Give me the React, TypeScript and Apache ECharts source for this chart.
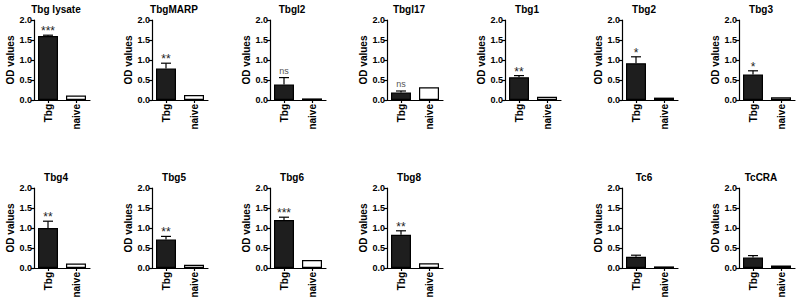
import React, { useEffect, useRef } from "react";
import * as echarts from "echarts";

// ---- data ----
const panelTitles = ["Tbg lysate", "TbgMARP", "Tbgl2", "Tbgl17", "Tbg1", "Tbg2", "Tbg3", "Tbg4", "Tbg5", "Tbg6", "Tbg8", "Tc6", "TcCRA"];
const categories = ["Tbg", "naive"];
const tbgValues = [1.6, 0.79, 0.39, 0.19, 0.57, 0.92, 0.64, 1.0, 0.71, 1.2, 0.83, 0.28, 0.26];
const tbgErrorTop = [1.62, 0.92, 0.56, 0.225, 0.61, 1.08, 0.73, 1.17, 0.79, 1.27, 0.93, 0.32, 0.31];
const naiveValues = [0.11, 0.125, 0.04, 0.32, 0.08, 0.06, 0.07, 0.11, 0.08, 0.2, 0.12, 0.04, 0.06];
const significance = ["***", "**", "ns", "ns", "**", "*", "*", "**", "**", "***", "**", "", ""];
const yAxisName = "OD values";
const yMin = 0;
const yMax = 2;
const yInterval = 0.5;

// ---- layout (positions only) ----
const colX = [34, 152, 270, 387, 505, 622, 739];
const rowTop = [20, 188];
const panelSlots: [number, number][] = [
  [0, 0], [0, 1], [0, 2], [0, 3], [0, 4], [0, 5], [0, 6],
  [1, 0], [1, 1], [1, 2], [1, 3], [1, 5], [1, 6],
];
const GRID_W = 56;
const GRID_H = 80;
const FONT = "'Liberation Sans', Arial, sans-serif";

function buildOption() {
  const grid: any[] = [];
  const xAxis: any[] = [];
  const yAxis: any[] = [];
  const series: any[] = [];
  const title: any[] = [];

  panelTitles.forEach((name, i) => {
    const [r, c] = panelSlots[i];
    const left = colX[c];
    const top = rowTop[r];
    grid.push({ left, top, width: GRID_W, height: GRID_H, outerBoundsMode: "none", containLabel: false });
    title.push({
      text: name,
      left: left + 22,
      top: top - 16,
      textAlign: "center",
      padding: 0,
      textStyle: { fontSize: 10, fontWeight: "bold", color: "#000", fontFamily: FONT },
    });
    xAxis.push({
      gridIndex: i,
      type: "category",
      data: categories,
      axisLine: { show: true, lineStyle: { color: "#000", width: 1.2 } },
      axisTick: { show: true, alignWithLabel: true, length: 3, lineStyle: { color: "#000", width: 1.2 } },
      axisLabel: { rotate: 90, margin: 4, fontSize: 10, fontWeight: "bold", color: "#000", fontFamily: FONT },
      splitLine: { show: false },
    });
    yAxis.push({
      gridIndex: i,
      type: "value",
      min: yMin,
      max: yMax,
      interval: yInterval,
      name: yAxisName,
      nameLocation: "middle",
      nameRotate: 90,
      nameGap: 13,
      nameTextStyle: { fontSize: 10, fontWeight: "bold", color: "#000", fontFamily: FONT },
      axisLine: { show: true, lineStyle: { color: "#000", width: 1.2 } },
      axisTick: { show: true, length: 3, lineStyle: { color: "#000", width: 1.2 } },
      axisLabel: {
        margin: 2,
        fontSize: 9,
        fontWeight: "bold",
        color: "#000",
        fontFamily: FONT,
        formatter: (v: number) => v.toFixed(1),
      },
      splitLine: { show: false },
    });
    series.push({
      type: "bar",
      xAxisIndex: i,
      yAxisIndex: i,
      barWidth: 20,
      data: [
        { value: tbgValues[i], itemStyle: { color: "#1e1e1e" } },
        { value: naiveValues[i], itemStyle: { color: "#ffffff" } },
      ],
      itemStyle: { borderColor: "#000", borderWidth: 1.2 },
      silent: true,
    });
    const label = significance[i];
    series.push({
      type: "custom",
      xAxisIndex: i,
      yAxisIndex: i,
      z: 5,
      silent: true,
      data: [[0, tbgValues[i], tbgErrorTop[i]]],
      renderItem: (params: any, api: any) => {
        const x = api.value(0);
        const pBar = api.coord([x, api.value(1)]);
        const pTop = api.coord([x, api.value(2)]);
        const isNs = label === "ns";
        return {
          type: "group",
          children: [
            { type: "line", shape: { x1: pBar[0], y1: pBar[1], x2: pTop[0], y2: pTop[1] }, style: { stroke: "#000", lineWidth: 1.2 } },
            { type: "line", shape: { x1: pTop[0] - 5, y1: pTop[1], x2: pTop[0] + 5, y2: pTop[1] }, style: { stroke: "#000", lineWidth: 1.2 } },
            {
              type: "text",
              x: pTop[0],
              y: pTop[1] - (isNs ? 7 : 4),
              style: {
                text: label,
                align: "center",
                verticalAlign: "middle",
                fontSize: isNs ? 9 : 12,
                fill: isNs ? "#555" : "#222",
                stroke: "none",
                lineWidth: 0,
                fontFamily: FONT,
              },
            },
          ],
        };
      },
    });
  });

  return { animation: false, backgroundColor: "#fff", title, grid, xAxis, yAxis, series };
}

export default function App() {
  const ref = useRef<HTMLDivElement>(null);
  useEffect(() => {
    document.body.style.margin = "0";
    const chart = echarts.init(ref.current!, undefined, { renderer: "svg" });
    chart.setOption(buildOption() as any);
    return () => chart.dispose();
  }, []);
  return <div ref={ref} style={{ width: 800, height: 305 }} />;
}
